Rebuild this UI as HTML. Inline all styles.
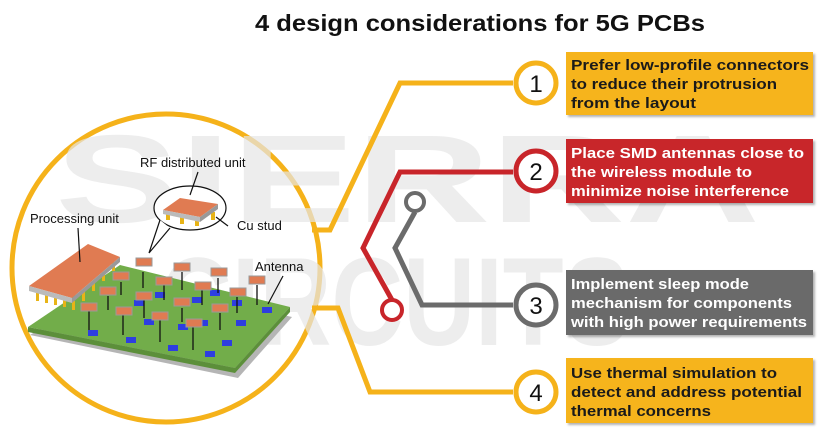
<!DOCTYPE html>
<html><head><meta charset="utf-8"><style>
html,body{margin:0;padding:0;background:#fff;}
svg{display:block;font-family:"Liberation Sans",sans-serif;}
</style></head><body>
<svg width="832" height="435" viewBox="0 0 832 435" xmlns="http://www.w3.org/2000/svg">
<defs>
<filter id="sh" x="-5%" y="-5%" width="115%" height="120%"><feDropShadow dx="2" dy="2" stdDeviation="1" flood-color="#000" flood-opacity="0.3"/></filter>
</defs>
<rect width="832" height="435" fill="#fff"/>
<text x="480" y="31" text-anchor="middle" font-size="23" font-weight="bold" fill="#111" textLength="450" lengthAdjust="spacingAndGlyphs">4 design considerations for 5G PCBs</text>

<!-- big circle -->
<circle cx="166" cy="268" r="154" fill="#fff" stroke="#f5b21a" stroke-width="5"/>
<!-- watermark -->
<g fill="#e6e6e6" font-weight="bold" font-size="125" opacity="0.7">
<text x="55" y="222" textLength="705" lengthAdjust="spacingAndGlyphs">SIERRA</text>
<text x="160" y="345" textLength="470" lengthAdjust="spacingAndGlyphs">CIRCUITS</text>
</g>

<!-- connectors -->
<g fill="none" stroke-width="5" stroke-linejoin="miter">
<polyline points="513,83 400,83 330,230 312,230" stroke="#f5b21a"/>
<polyline points="513,392 370,392 338,308 312,308" stroke="#f5b21a"/>
<polyline points="513,172 400,172 363,248 392,300" stroke="#c8252a"/>
<polyline points="415,212 395,248 422,305 513,305" stroke="#6b6b6b"/>
</g>
<circle cx="392" cy="310" r="10" fill="#fff" stroke="#c8252a" stroke-width="4"/>
<circle cx="415" cy="202" r="9" fill="#fff" stroke="#6b6b6b" stroke-width="4"/>

<!-- number circles -->
<g font-size="24" text-anchor="middle" fill="#111">
<circle cx="536" cy="83" r="20" fill="#fff" stroke="#f5b21a" stroke-width="5"/><text x="536" y="92">1</text>
<circle cx="536" cy="171" r="20" fill="#fff" stroke="#c8252a" stroke-width="5"/><text x="536" y="180">2</text>
<circle cx="536" cy="305" r="20" fill="#fff" stroke="#6b6b6b" stroke-width="5"/><text x="536" y="314">3</text>
<circle cx="536" cy="392" r="20" fill="#fff" stroke="#f5b21a" stroke-width="5"/><text x="536" y="401">4</text>
</g>

<!-- boxes -->
<g filter="url(#sh)">
<rect x="566" y="52" width="247" height="63" fill="#f6b41b"/>
<rect x="566" y="139" width="247" height="64" fill="#c8252a"/>
<rect x="566" y="270" width="247" height="65" fill="#6b6b6b"/>
<rect x="566" y="358" width="247" height="65" fill="#f6b41b"/>
</g>
<g font-size="15" font-weight="bold">
<g fill="#1a1a1a">
<text x="571" y="70" textLength="238" lengthAdjust="spacingAndGlyphs">Prefer low-profile connectors</text>
<text x="571" y="89" textLength="206" lengthAdjust="spacingAndGlyphs">to reduce their protrusion</text>
<text x="571" y="108" textLength="125" lengthAdjust="spacingAndGlyphs">from the layout</text>
<text x="571" y="378" textLength="206" lengthAdjust="spacingAndGlyphs">Use thermal simulation to</text>
<text x="571" y="397" textLength="231" lengthAdjust="spacingAndGlyphs">detect and address potential</text>
<text x="571" y="416" textLength="140" lengthAdjust="spacingAndGlyphs">thermal concerns</text>
</g>
<g fill="#fff">
<text x="571" y="158" textLength="233" lengthAdjust="spacingAndGlyphs">Place SMD antennas close to</text>
<text x="571" y="177" textLength="181" lengthAdjust="spacingAndGlyphs">the wireless module to</text>
<text x="571" y="196" textLength="218" lengthAdjust="spacingAndGlyphs">minimize noise interference</text>
<text x="571" y="289" textLength="178" lengthAdjust="spacingAndGlyphs">Implement sleep mode</text>
<text x="571" y="308" textLength="221" lengthAdjust="spacingAndGlyphs">mechanism for components</text>
<text x="571" y="327" textLength="236" lengthAdjust="spacingAndGlyphs">with high power requirements</text>
</g>
</g>

<!-- PCB base -->
<polygon points="30,335 122,277 292,317 238,378" fill="#b5b5b5"/>
<polygon points="28,327 120,265 290,307 235,368" fill="#72ad4a"/>
<polygon points="28,327 235,368 235,373 28,332" fill="#5c8f3a"/>
<polygon points="235,368 290,307 290,312 235,373" fill="#5c8f3a"/>
<g fill="#2e3ee0">
<rect x="88" y="330" width="10" height="6"/><rect x="126" y="337" width="10" height="6"/><rect x="168" y="345" width="10" height="6"/><rect x="205" y="351" width="10" height="6"/>
<rect x="144" y="319" width="10" height="6"/><rect x="178" y="324" width="10" height="6"/><rect x="222" y="340" width="10" height="6"/>
<rect x="155" y="292" width="10" height="6"/><rect x="192" y="297" width="10" height="6"/><rect x="236" y="320" width="10" height="6"/>
<rect x="134" y="300" width="10" height="6"/><rect x="198" y="320" width="10" height="6"/><rect x="262" y="307" width="10" height="6"/>
<rect x="232" y="300" width="10" height="6"/><rect x="210" y="290" width="10" height="6"/>
</g>
<!-- processing unit -->
<g fill="#e8b417">
<rect x="36" y="292" width="3" height="9"/><rect x="45" y="294" width="3" height="9"/><rect x="54" y="296" width="3" height="9"/><rect x="63" y="298" width="3" height="9"/><rect x="72" y="301" width="3" height="9"/>
<rect x="82" y="292" width="3" height="9"/><rect x="92" y="282" width="3" height="9"/><rect x="102" y="272" width="3" height="9"/><rect x="112" y="262" width="3" height="9"/>
</g>
<polygon points="29,286 88,244 120,257 72,298" fill="#e07b52"/>
<polygon points="29,286 72,298 72,303 29,291" fill="#bbb"/>
<polygon points="72,298 120,257 120,262 72,303" fill="#999"/>
<!-- RF chips with arrows -->
<g stroke="#111" stroke-width="1.3">
<line x1="143" y1="272" x2="143" y2="288"/><line x1="121" y1="282" x2="121" y2="295"/><line x1="108" y1="296" x2="108" y2="310"/><line x1="89" y1="310" x2="89" y2="330"/>
<line x1="182" y1="272" x2="182" y2="290"/><line x1="218" y1="278" x2="218" y2="293"/><line x1="257" y1="285" x2="257" y2="305"/>
<line x1="164" y1="285" x2="164" y2="300"/><line x1="202" y1="290" x2="202" y2="305"/><line x1="237" y1="297" x2="237" y2="313"/>
<line x1="144" y1="300" x2="144" y2="318"/><line x1="182" y1="308" x2="182" y2="322"/><line x1="220" y1="313" x2="220" y2="330"/>
<line x1="123" y1="315" x2="123" y2="335"/><line x1="160" y1="320" x2="160" y2="342"/><line x1="193" y1="327" x2="193" y2="350"/>
</g>
<g fill="#e07b52" stroke="#999" stroke-width="1">
<rect x="136" y="258" width="16" height="8"/><rect x="113" y="272" width="16" height="8"/><rect x="100" y="287" width="16" height="8"/><rect x="81" y="303" width="16" height="8"/>
<rect x="174" y="263" width="16" height="8"/><rect x="211" y="268" width="16" height="8"/><rect x="249" y="276" width="16" height="8"/>
<rect x="156" y="277" width="16" height="8"/><rect x="195" y="282" width="16" height="8"/><rect x="230" y="288" width="16" height="8"/>
<rect x="136" y="292" width="16" height="8"/><rect x="174" y="298" width="16" height="8"/><rect x="212" y="304" width="16" height="8"/>
<rect x="116" y="307" width="16" height="8"/><rect x="152" y="312" width="16" height="8"/><rect x="186" y="319" width="16" height="8"/>
</g>
<!-- callout -->
<ellipse cx="190" cy="208" rx="36" ry="22" fill="#fff" stroke="#111" stroke-width="1.2"/>
<polyline points="160,220 149,253 170,228" fill="#fff" stroke="#111" stroke-width="1.2"/>
<g fill="#e8b417"><rect x="166" y="212" width="4" height="8"/><rect x="180" y="216" width="4" height="8"/><rect x="195" y="218" width="4" height="8"/><rect x="211" y="212" width="4" height="8"/></g>
<polygon points="163,210 180,198 218,204 200,217" fill="#e07b52"/>
<polygon points="163,210 200,217 200,222 163,214" fill="#bbb"/>
<polygon points="200,217 218,204 218,209 200,222" fill="#999"/>
<g font-size="13" fill="#111">
<text x="140" y="167">RF distributed unit</text>
<text x="30" y="223">Processing unit</text>
<text x="237" y="230">Cu stud</text>
<text x="255" y="271">Antenna</text>
</g>
<g stroke="#111" stroke-width="1.2" fill="none">
<line x1="198" y1="172" x2="190" y2="195"/>
<line x1="228" y1="226" x2="216" y2="217"/>
<line x1="78" y1="228" x2="80" y2="262"/>
<line x1="283" y1="276" x2="268" y2="304"/>
</g>
</svg>
</body></html>
